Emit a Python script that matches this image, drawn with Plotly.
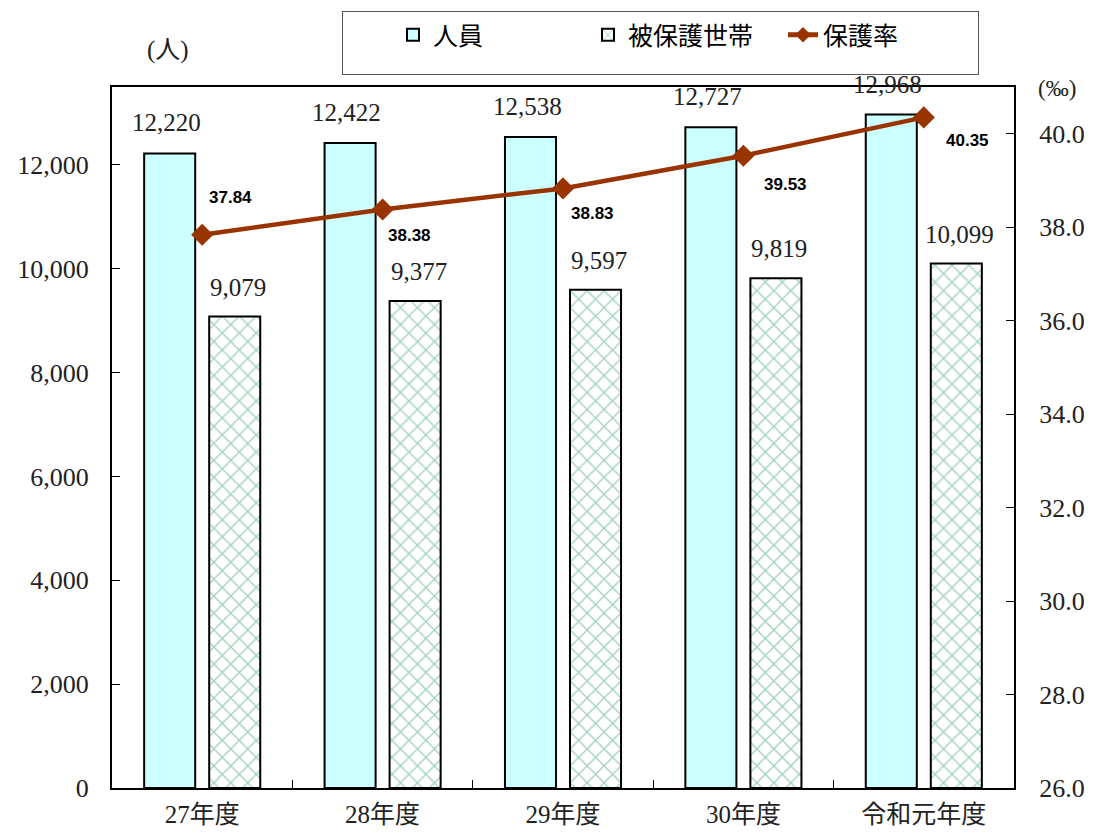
import plotly.graph_objects as go
from plotly.subplots import make_subplots

years = ["27年度", "28年度", "29年度", "30年度", "令和元年度"]
persons = [12220, 12422, 12538, 12727, 12968]
households = [9079, 9377, 9597, 9819, 10099]
rate = [37.84, 38.38, 38.83, 39.53, 40.35]

SERIF = "Liberation Serif, Noto Sans CJK JP, serif"
SANS = "Noto Sans CJK JP, Noto Sans, sans-serif"
LINE_COLOR = "#993300"

# the page body adds an 8px margin, so the figure is a bit smaller than the window
W, H = 1093 - 16, 839 - 16
L, T = 104, 79
R, B = W + 8 - 1014, H + 8 - 788
pw, ph = W - L - R, H - T - B


def px_to_paper(x, y):
    return (x - 8 - L) / pw, 1 + (8 + T - y) / ph


fig = make_subplots(specs=[[{"secondary_y": True}]])

fig.add_bar(
    x=years, y=persons, name="人員",
    marker=dict(color="#ccffff", line=dict(color="black", width=2)),
    secondary_y=False,
)
fig.add_bar(
    x=years, y=households, name="被保護世帯",
    marker=dict(
        color="white",
        line=dict(color="black", width=2),
        pattern=dict(shape="x", fgcolor="#45a876", bgcolor="white", size=12, solidity=0.22),
    ),
    secondary_y=False,
)
fig.add_scatter(
    x=years, y=rate, name="保護率", mode="lines+markers",
    line=dict(color=LINE_COLOR, width=4.5),
    marker=dict(symbol="diamond", size=17, color=LINE_COLOR),
    secondary_y=True,
)

# value labels above bars
for yr, p, h in zip(years, persons, households):
    fig.add_annotation(
        x=yr, y=p, text=f"{p:,}", showarrow=False, yanchor="bottom",
        xshift=-36, yshift=15, font=dict(family=SERIF, size=25, color="#222"),
        yref="y",
    )
    fig.add_annotation(
        x=yr, y=h, text=f"{h:,}", showarrow=False, yanchor="bottom",
        xshift=36, yshift=14, font=dict(family=SERIF, size=25, color="#222"),
        yref="y",
    )

# rate labels, placed beside the markers
rate_shifts = [(28, 37), (27, -26), (29, -25), (42, -29), (44, -23)]
for yr, r, (dx, dy) in zip(years, rate, rate_shifts):
    fig.add_annotation(
        x=yr, y=r, text=f"<b>{r:.2f}</b>", showarrow=False,
        xshift=dx, yshift=dy, font=dict(family="Liberation Sans, Arial", size=17, color="black"),
        yref="y2",
    )

ux, uy = px_to_paper(168, 50)
fig.add_annotation(
    x=ux, y=uy, xref="paper", yref="paper", text="(人)", showarrow=False,
    xanchor="center", yanchor="middle",
    font=dict(family=SERIF, size=25, color="#222"),
)
ux, uy = px_to_paper(1057, 88)
fig.add_annotation(
    x=ux, y=uy, xref="paper", yref="paper", text="(‰)", showarrow=False,
    xanchor="center", yanchor="middle",
    font=dict(family=SERIF, size=23, color="#222"),
)

lx, ly = px_to_paper(342, 11)
fig.update_layout(
    width=W, height=H,
    margin=dict(l=L, r=R, t=T, b=B, autoexpand=False),
    paper_bgcolor="white", plot_bgcolor="white",
    barmode="group", bargap=0.279, bargroupgap=0.215,
    font=dict(family=SERIF, size=26, color="#222"),
    legend=dict(
        orientation="h", x=lx, xanchor="left", y=ly, yanchor="top",
        bordercolor="#555", borderwidth=1, bgcolor="white",
        font=dict(family=SANS, size=25, color="black"),
        title=dict(text="　", side="left", font=dict(family=SANS, size=40)),
        entrywidth=150, itemsizing="constant", valign="middle",
    ),
    showlegend=True,
)
fig.update_xaxes(
    domain=[0, 1], automargin=False,
    showline=True, linecolor="black", linewidth=2, mirror=True,
    ticks="inside", tickson="boundaries", ticklen=8, tickcolor="black",
    tickfont=dict(family=SERIF, size=25), ticklabelstandoff=3,
)
fig.update_yaxes(
    range=[0, 13500], dtick=2000, tickformat=",", showgrid=False, zeroline=False,
    showline=True, linecolor="black", linewidth=2, automargin=False,
    ticks="inside", ticklen=8, tickcolor="black",
    tickfont=dict(family=SERIF, size=26), ticklabelstandoff=16, secondary_y=False,
)
fig.update_yaxes(
    range=[26, 41], dtick=2, tickformat=".1f", showgrid=False, zeroline=False,
    showline=True, linecolor="black", linewidth=2, automargin=False,
    ticks="inside", ticklen=8, tickcolor="black",
    tickfont=dict(family=SERIF, size=26), ticklabelstandoff=18, secondary_y=True,
)

fig.write_html("out.html")
